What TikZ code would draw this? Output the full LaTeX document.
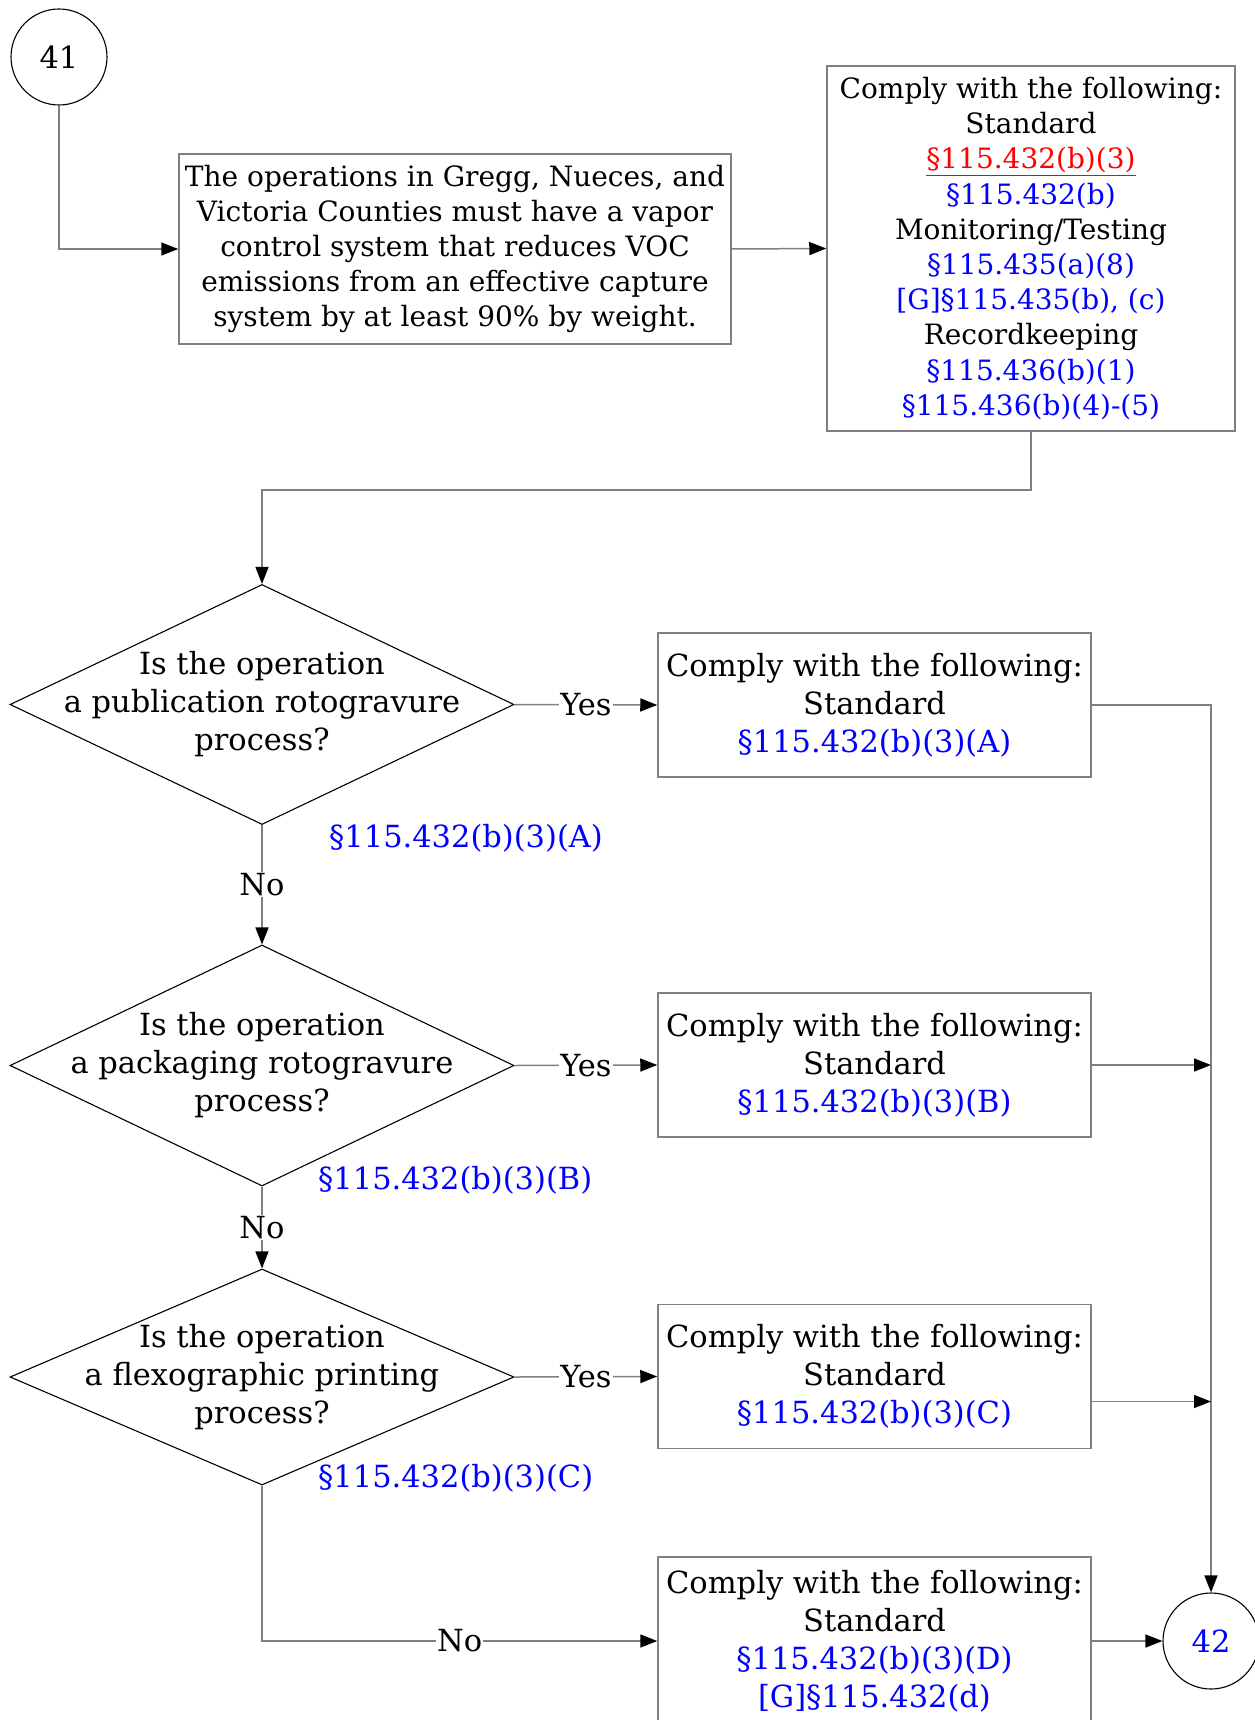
\documentclass[tikz,border=0pt]{standalone}
\usepackage{fontspec}
\setmainfont{DejaVu Serif}
\usetikzlibrary{arrows.meta, shapes.geometric, calc}
\newcommand{\bigtext}{\fontsize{30.5}{38}\selectfont}
\newcommand{\smalltext}{\fontsize{28}{35.2}\selectfont}
\newcommand{\rulref}[1]{\textcolor{blue}{#1}}
\tikzstyle{box}=[draw=gray, line width=1.5pt, align=center, inner sep=2pt, minimum width=433pt, minimum height=144pt, font=\bigtext]
\tikzstyle{decision}=[draw, line width=1.1pt, diamond, inner sep=0pt, minimum width=504pt, minimum height=240pt]
\tikzstyle{question}=[align=center, inner sep=0pt, font=\bigtext]
\tikzstyle{connector}=[draw, line width=1.1pt, circle, minimum size=96pt, inner sep=0pt, font=\bigtext]
\tikzstyle{flow}=[draw=gray, line width=1.5pt, -{Triangle[length=17pt, width=13pt, black]}]
\tikzstyle{answer}=[fill=white, inner sep=1pt, font=\bigtext]
\tikzstyle{rule}=[anchor=west, font=\bigtext, text=blue, inner sep=0pt]

\begin{document}
\begin{tikzpicture}[x=1pt, y=-1pt]
    \useasboundingbox (0, 0) rectangle (1254, 1720);

    \node[connector] (c41) at (59, 57) {41};

    \node[box, minimum width=552pt, minimum height=190pt, font=\smalltext] (ops) at (455, 249)
        {The operations in Gregg, Nueces, and\\Victoria Counties must have a vapor\\control system that reduces VOC\\emissions from an effective capture\\system by at least 90\% by weight.};

    \node[box, minimum width=408pt, minimum height=365pt, font=\smalltext] (comply) at (1031, 248.5)
        {Comply with the following:\\Standard\\{\color{red}\underline{§115.432(b)(3)}}\\\rulref{§115.432(b)}\\Monitoring/Testing\\\rulref{§115.435(a)(8)}\\\rulref{[G]§115.435(b), (c)}\\Recordkeeping\\\rulref{§115.436(b)(1)}\\\rulref{§115.436(b)(4)-(5)}};

    % decisions
    \node[decision] (pub) at (262, 704.5) {};
    \node[question] (pubq) at (pub) {Is the operation\\a publication rotogravure\\process?};
    \node[decision, minimum height=241pt] (pack) at (262, 1065.5) {};
    \node[question] (packq) at (pack) {Is the operation\\a packaging rotogravure\\process?};
    \node[decision, minimum height=216pt] (flexo) at (262, 1377) {};
    \node[question] (flexoq) at (flexo) {Is the operation\\a flexographic printing\\process?};

    \node[box] (stdA) at (874.5, 705) {Comply with the following:\\Standard\\\rulref{§115.432(b)(3)(A)}};
    \node[box] (stdB) at (874.5, 1065) {Comply with the following:\\Standard\\\rulref{§115.432(b)(3)(B)}};
    \node[box] (stdC) at (874.5, 1376.5) {Comply with the following:\\Standard\\\rulref{§115.432(b)(3)(C)}};
    \node[box, minimum height=168pt] (stdD) at (874.5, 1641) {Comply with the following:\\Standard\\\rulref{§115.432(b)(3)(D)}\\\rulref{[G]§115.432(d)}};

    \node[connector, text=blue] (c42) at (1211, 1641) {42};

    \node[rule] (refA) at ($(pub.south) + (67, 13)$) {§115.432(b)(3)(A)};
    \node[rule] (refB) at ($(pack.south) + (56, -6)$) {§115.432(b)(3)(B)};
    \node[rule] (refC) at ($(flexo.south) + (56, -7)$) {§115.432(b)(3)(C)};

    \draw[flow] (c41) |- (ops.west);
    \draw[flow] (ops.east) -- (comply.west);
    \draw[flow] (comply.south) -- ++(0, 58) -| (pub.north);

    \draw[flow] (pub.east) -- node[answer] {Yes} (stdA.west);
    \draw[flow] (pack.east) -- node[answer] {Yes} (stdB.west);
    \draw[flow] (flexo.east) -- node[answer] {Yes} (stdC.west);

    \draw[flow] (pub.south) -- node[answer] {No} (pack.north);
    \draw[flow] (pack.south) -- node[answer] {No} (flexo.north);
    \draw[flow] (flexo.south) |- node[answer, pos=0.75] {No} (stdD.west);

    \draw[flow] (stdA.east) -| (c42.north);
    \draw[flow] (stdB.east) -- (stdB.east -| c42);
    \draw[flow] ($(stdC.east) + (0, 25)$) -- ($(stdC.east -| c42) + (0, 25)$);
    \draw[flow] (stdD.east) -- (c42.west);
\end{tikzpicture}
\end{document}
